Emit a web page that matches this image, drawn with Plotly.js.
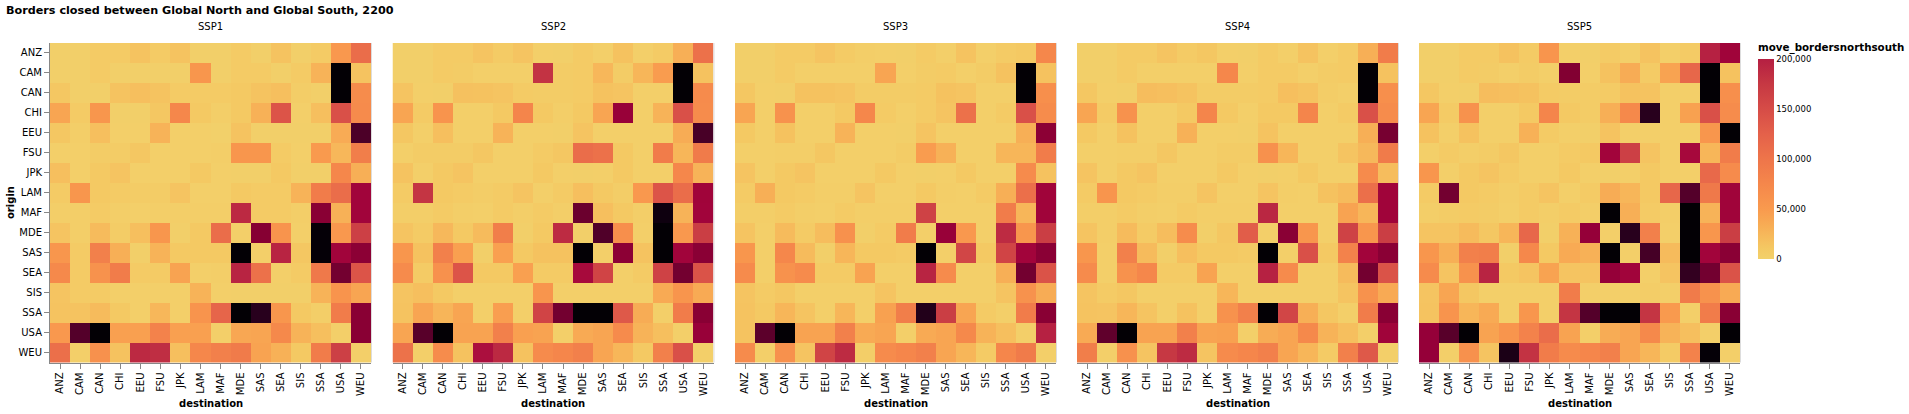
<!DOCTYPE html>
<html>
<head>
<meta charset="utf-8">
<script src="https://cdn.plot.ly/plotly-3.0.1.min.js"></script>
<style>html,body{margin:0;padding:0;background:#fff;}#chart{width:1909px;height:414px;}</style>
</head>
<body>
<div id="chart"></div>
<script>
// Region codes (origin rows, destination columns)
const origins = ["ANZ","CAM","CAN","CHI","EEU","FSU","JPK","LAM","MAF","MDE","SAS","SEA","SIS","SSA","USA","WEU"];
const destinations = ["ANZ","CAM","CAN","CHI","EEU","FSU","JPK","LAM","MAF","MDE","SAS","SEA","SIS","SSA","USA","WEU"];
const scenarios = ["SSP1","SSP2","SSP3","SSP4","SSP5"];
const legendTickVals = [0,50,100,150,200];
const legendTickText = ["0","50,000","100,000","150,000","200,000"];

// move_bordersnorthsouth, thousands of people; rows = origin, columns = destination
const ssp1 = [
  [2,2,8,8,15,8,15,2,2,8,2,15,2,8,52,110],
  [2,2,8,2,2,2,2,55,2,8,8,2,8,28,480,15],
  [12,2,2,15,18,15,8,8,8,10,15,18,5,2,480,68],
  [40,8,55,2,2,12,75,10,4,10,30,140,3,18,145,70],
  [12,4,18,3,3,28,3,3,1,15,2,2,2,2,35,350],
  [3,3,6,6,12,3,3,3,4,55,55,8,3,50,25,88],
  [18,3,10,14,3,3,3,10,3,2,2,10,2,2,75,32],
  [8,55,10,8,6,6,14,3,3,10,8,8,28,90,110,230],
  [4,4,8,4,3,4,4,4,4,190,8,8,4,270,30,230],
  [14,4,22,6,18,55,2,10,110,3,275,58,3,470,52,165],
  [55,8,85,32,2,28,10,10,10,480,3,195,12,470,230,265],
  [72,8,60,90,8,8,42,3,4,195,105,3,8,95,300,140],
  [14,8,8,3,3,3,3,28,3,2,2,2,2,28,58,40],
  [15,15,22,10,3,25,3,58,120,480,400,55,10,4,90,270],
  [52,340,480,45,45,82,45,45,3,38,40,72,28,18,3,270],
  [108,3,62,16,190,185,18,75,85,92,42,30,10,90,165,3]
];
const ssp2 = [
  [2,2,8,8,14,8,14,3,2,8,3,16,3,8,32,105],
  [2,2,8,6,3,3,3,180,6,8,25,6,26,48,480,16],
  [14,3,2,17,16,14,8,6,6,8,16,14,3,3,480,70],
  [40,8,58,3,3,10,78,10,4,10,40,245,3,28,145,68],
  [12,3,18,3,3,28,3,3,2,14,3,3,3,3,34,355],
  [3,6,6,6,12,3,3,8,12,110,105,10,3,90,26,92],
  [15,3,10,14,3,3,3,10,3,2,3,10,3,3,75,28],
  [8,178,10,8,5,8,14,3,8,18,10,5,52,140,110,232],
  [4,4,8,4,3,8,4,8,4,310,18,10,4,440,28,230],
  [14,8,24,10,22,88,2,10,188,2,345,65,3,480,52,168],
  [55,16,85,45,2,45,10,16,16,480,3,265,15,480,230,268],
  [70,8,62,140,10,10,45,8,8,220,160,3,8,162,300,142],
  [14,18,10,3,3,3,3,56,3,3,3,3,3,36,56,36],
  [15,40,27,40,3,46,3,160,300,480,480,135,34,3,90,270],
  [40,335,480,42,42,85,45,42,3,36,40,70,28,18,3,245],
  [104,3,68,16,215,190,16,70,76,85,40,26,10,85,145,3]
];
const ssp3 = [
  [2,2,8,8,14,8,4,3,2,8,3,15,3,8,10,75],
  [2,2,8,3,3,3,3,40,3,6,8,3,6,16,480,16],
  [12,3,2,16,16,14,6,6,6,8,16,14,3,3,480,64],
  [40,3,60,3,3,10,75,8,3,8,14,105,3,8,145,68],
  [10,3,16,3,3,28,3,3,2,14,3,3,3,3,32,265],
  [3,3,4,4,12,3,3,3,6,48,30,3,3,26,26,90],
  [14,3,10,14,3,3,3,10,3,2,3,10,3,3,70,16],
  [8,32,10,8,4,4,14,3,3,10,4,3,8,32,108,232],
  [4,4,8,4,3,8,4,4,4,162,3,3,3,90,26,232],
  [14,3,22,8,20,62,2,8,90,3,245,52,3,188,55,168],
  [55,3,75,22,2,26,10,10,8,480,3,158,10,160,228,268],
  [70,3,60,70,8,8,42,3,3,195,70,3,3,32,300,142],
  [14,8,12,3,3,3,3,14,3,3,3,3,3,14,60,34],
  [15,10,26,14,3,26,3,44,88,410,168,40,8,3,90,270],
  [15,330,480,42,42,85,36,40,3,36,40,72,28,18,3,198],
  [70,3,62,14,160,188,4,70,76,85,40,26,8,76,92,3]
];
const ssp4 = [
  [2,2,8,8,14,8,12,3,2,8,3,15,3,8,32,90],
  [2,2,8,3,3,3,3,75,3,8,8,3,6,8,480,16],
  [12,3,2,20,18,15,6,6,6,8,18,15,5,3,480,64],
  [40,8,60,3,3,10,78,10,3,10,10,78,3,8,145,68],
  [10,3,16,3,3,30,3,3,2,15,3,3,3,3,32,295],
  [3,3,4,4,12,3,3,6,6,62,26,3,3,14,24,92],
  [14,3,10,14,3,3,3,10,3,2,3,10,3,3,70,20],
  [8,56,10,8,4,4,14,3,3,14,4,3,16,22,108,232],
  [4,4,8,4,3,8,4,4,4,192,3,3,3,42,26,232],
  [14,4,22,8,20,68,2,12,130,3,268,55,3,162,55,168],
  [55,3,85,22,2,18,10,10,8,480,3,145,10,82,228,268],
  [70,3,60,75,8,8,42,3,3,198,70,3,3,22,300,142],
  [14,8,12,3,3,3,3,26,3,3,3,3,3,14,60,36],
  [15,14,26,14,3,16,3,60,85,480,158,32,12,3,90,270],
  [36,325,480,42,42,85,42,44,3,34,40,72,28,18,3,232],
  [88,3,62,14,175,188,14,70,76,85,40,26,8,85,135,3]
];
const ssp5 = [
  [2,2,8,8,16,8,56,3,2,8,3,15,3,8,198,232],
  [2,2,8,6,3,6,3,280,3,16,34,8,42,118,480,16],
  [12,3,2,20,18,16,8,6,6,8,16,15,3,3,480,64],
  [40,8,60,3,3,10,78,10,6,32,72,400,3,44,145,68],
  [16,3,16,3,3,30,8,3,2,15,3,3,3,3,55,480],
  [3,8,4,6,12,3,3,8,10,228,165,14,3,222,26,90],
  [55,3,10,14,8,3,3,10,3,2,3,10,3,3,115,70],
  [8,300,10,8,4,8,14,3,8,34,26,10,118,340,95,232],
  [4,6,8,6,3,8,4,8,4,480,32,8,4,480,28,232],
  [14,14,22,12,26,118,2,30,250,3,400,85,3,480,55,168],
  [55,32,85,88,2,74,10,36,30,480,3,360,22,480,228,268],
  [70,14,60,195,10,14,42,14,14,250,230,3,14,385,300,142],
  [14,40,12,3,3,3,3,90,3,3,3,5,3,92,60,36],
  [15,58,26,36,3,55,3,178,340,480,480,178,50,3,90,270],
  [250,335,480,42,56,82,110,42,3,34,40,72,28,18,3,480],
  [250,3,62,14,420,180,90,70,76,85,40,26,8,82,470,3]
];
const panels = [ssp1, ssp2, ssp3, ssp4, ssp5];

// colour scale (values in thousands, 0..500)
const ZMAX = 500;
const stops = [
  [0,'#f2d16b'],[10,'#f4c963'],[20,'#f6bd5d'],[30,'#f7b157'],[40,'#f8a552'],
  [50,'#f99a4e'],[75,'#f5874b'],[100,'#ee754a'],[125,'#e4614a'],[150,'#d64c47'],
  [175,'#c63843'],[200,'#b51f42'],[225,'#a4053b'],[250,'#950039'],[275,'#860033'],
  [300,'#730030'],[350,'#4c0028'],[400,'#28001d'],[450,'#08000c'],[500,'#000000']
];
const fullScale = stops.map(s => [s[0]/ZMAX, s[1]]);
const legendScale = stops.filter(s => s[0] <= 200).map(s => [s[0]/200, s[1]]);

const W = 1909, H = 414;
const FONT = 'DejaVu Sans, Verdana, sans-serif';
const lefts = [50, 392.5, 735, 1077, 1419];
const PW = 321, TOP = 43, BOTTOM = 362.5;
const px = v => v / W, py = v => 1 - v / H;

const data = [];
const layout = {
  width: W, height: H,
  margin: {l:0, r:0, t:0, b:0, pad:0},
  paper_bgcolor: '#fff', plot_bgcolor: '#fff',
  showlegend: false,
  font: {family: FONT, size: 10, color: '#000'},
  annotations: [], shapes: []
};

panels.forEach((m, i) => {
  const sx = i === 0 ? '' : String(i + 1);
  data.push({
    type: 'heatmap', x: destinations, y: origins, z: m,
    xaxis: 'x' + sx, yaxis: 'y' + sx,
    colorscale: fullScale, zmin: 0, zmax: ZMAX, showscale: false,
    xgap: 0, ygap: 0,
    hovertemplate: 'origin %{y}<br>destination %{x}<br>%{z}k<extra>' + scenarios[i] + '</extra>'
  });
  layout['xaxis' + sx] = {
    domain: [px(lefts[i]), px(lefts[i] + PW)], anchor: 'y' + sx,
    type: 'category', categoryorder: 'array', categoryarray: destinations,
    tickangle: -90, ticks: 'outside', ticklen: 5, tickwidth: 1, tickcolor: '#888',
    showline: true, linecolor: '#888', linewidth: 1, showgrid: false, zeroline: false,
    tickfont: {family: FONT, size: 10, color: '#000'}, fixedrange: true
  };
  layout['yaxis' + sx] = {
    domain: [py(BOTTOM), py(TOP)], anchor: 'x' + sx,
    type: 'category', categoryorder: 'array', categoryarray: origins,
    autorange: 'reversed',
    ticks: i === 0 ? 'outside' : '', ticklen: 5, tickwidth: 1, tickcolor: '#888',
    showticklabels: i === 0, showline: i === 0, linecolor: '#888', linewidth: 1,
    showgrid: false, zeroline: false,
    tickfont: {family: FONT, size: 10, color: '#000'}, fixedrange: true
  };
  const cx = px(lefts[i] + PW / 2);
  layout.annotations.push({
    xref: 'paper', yref: 'paper', x: cx, y: py(27), xanchor: 'center', yanchor: 'middle',
    text: scenarios[i], showarrow: false, font: {family: FONT, size: 10, color: '#000'}
  });
  layout.annotations.push({
    xref: 'paper', yref: 'paper', x: cx, y: py(403), xanchor: 'center', yanchor: 'middle',
    text: '<b>destination</b>', showarrow: false, font: {family: FONT, size: 10, color: '#000'}
  });
  layout.shapes.push({
    type: 'line', xref: 'paper', yref: 'paper',
    x0: px(lefts[i] + PW + 0.5), x1: px(lefts[i] + PW + 0.5), y0: py(TOP), y1: py(BOTTOM),
    line: {color: '#ddd', width: 1}
  });
});

// legend colour bar (0 - 200,000)
data.push({
  type: 'scatter', mode: 'markers', x: [5, 5], y: [5, 5], xaxis: 'x6', yaxis: 'y6',
  hoverinfo: 'skip',
  marker: {
    color: [0, 200], cmin: 0, cmax: 200, colorscale: legendScale, showscale: true, size: 1,
    colorbar: {
      x: px(1758), xanchor: 'left', y: py(59), yanchor: 'top',
      lenmode: 'pixels', len: 200, thicknessmode: 'pixels', thickness: 16,
      xpad: 0, ypad: 0, outlinewidth: 0, ticks: '',
      tickvals: legendTickVals, ticktext: legendTickText,
      tickfont: {family: FONT, size: 8.5, color: '#000'}
    }
  }
});
layout.xaxis6 = {domain: [0, 0.001], range: [0, 1], visible: false, anchor: 'y6', fixedrange: true};
layout.yaxis6 = {domain: [0, 0.001], range: [0, 1], visible: false, anchor: 'x6', fixedrange: true};

layout.annotations.push(
  {xref: 'paper', yref: 'paper', x: px(4), y: py(10.5), xanchor: 'left', yanchor: 'middle',
   text: '<b>Borders closed between Global North and Global South, 2200</b>', showarrow: false,
   font: {family: FONT, size: 11.2, color: '#000'}},
  {xref: 'paper', yref: 'paper', x: px(11), y: py(203), xanchor: 'center', yanchor: 'middle',
   text: '<b>origin</b>', textangle: -90, showarrow: false,
   font: {family: FONT, size: 10, color: '#000'}},
  {xref: 'paper', yref: 'paper', x: px(1756), y: py(48), xanchor: 'left', yanchor: 'middle',
   text: '<b>move_bordersnorthsouth</b>', showarrow: false,
   font: {family: FONT, size: 10.3, color: '#000'}}
);

Plotly.newPlot('chart', data, layout, {displayModeBar: false, staticPlot: false});
</script>
</body>
</html>
